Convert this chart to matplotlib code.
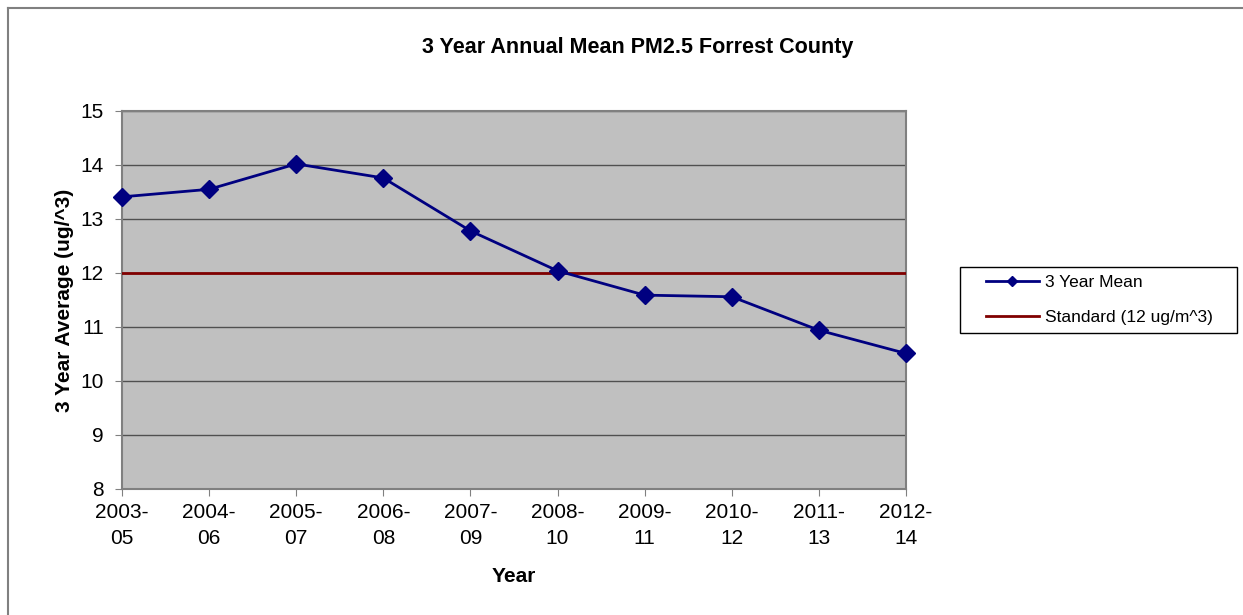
import matplotlib
matplotlib.use('Agg')
import matplotlib.pyplot as plt
from matplotlib.lines import Line2D
from matplotlib.patches import Rectangle

plt.rcParams['font.family'] = ['Liberation Sans', 'DejaVu Sans']

periods = ['2003-\n05', '2004-\n06', '2005-\n07', '2006-\n08', '2007-\n09',
           '2008-\n10', '2009-\n11', '2010-\n12', '2011-\n13', '2012-\n14']
mean_3yr = [13.41, 13.55, 14.02, 13.76, 12.78, 12.04, 11.59, 11.56, 10.94, 10.51]
standard = 12

W, H = 1243, 615
fig = plt.figure(figsize=(W / 100, H / 100), dpi=100)
ax = fig.add_axes([122 / W, 1 - 489 / H, (906 - 122) / W, (489 - 111) / H])
ax.set_facecolor('#C0C0C0')

x = list(range(len(periods)))
ax.axhline(standard, color='#800000', lw=2, label='Standard (12 ug/m^3)', zorder=3)
ax.plot(x, mean_3yr, color='#000080', lw=2, marker='D', ms=9,
        label='3 Year Mean', zorder=4, clip_on=False)

ax.set_xlim(0, len(periods) - 1)
ax.set_ylim(8, 15)
ax.set_xticks(x)
ax.set_xticklabels(periods, fontsize=15, linespacing=1.45)
ax.set_yticks(range(8, 16))
ax.tick_params(axis='y', labelsize=15, length=5, color='#808080', pad=8)
ax.tick_params(axis='x', length=5, color='#808080', pad=5)
ax.yaxis.grid(True, color='#505050', lw=1)
ax.set_axisbelow(True)
for s in ax.spines.values():
    s.set_color('#808080')
    s.set_linewidth(1.5)

fig.text(638 / W, 1 - 47 / H, '3 Year Annual Mean PM2.5 Forrest County',
         fontsize=15.5, fontweight='bold', ha='center', va='center')
ax.set_ylabel('3 Year Average (ug/^3)', fontsize=15, fontweight='bold', labelpad=5)
ax.set_xlabel('Year', fontsize=15, fontweight='bold', labelpad=14)

# legend (frame drawn separately to get Excel-like padding)
h, l = ax.get_legend_handles_labels()
leg = fig.legend(h[::-1], l[::-1], loc='center left', bbox_to_anchor=(977 / W, 1 - 300 / H),
                 fontsize=12.5, frameon=False, markerscale=0.55, borderpad=0,
                 handlelength=3.05, handletextpad=0.35, labelspacing=1.1)
fig.add_artist(Rectangle((960 / W, 1 - 333 / H), (1237 - 960) / W, (333 - 267) / H,
                         transform=fig.transFigure, fill=False, edgecolor='black', lw=1))

# chart-area border (only top and left visible)
fig.add_artist(Line2D([8 / W, 8 / W], [0, 1 - 8 / H], transform=fig.transFigure,
                      color='#808080', lw=1.5))
fig.add_artist(Line2D([8 / W, 1], [1 - 8 / H, 1 - 8 / H], transform=fig.transFigure,
                      color='#808080', lw=1.5))

fig.savefig('out.png', dpi=100)
